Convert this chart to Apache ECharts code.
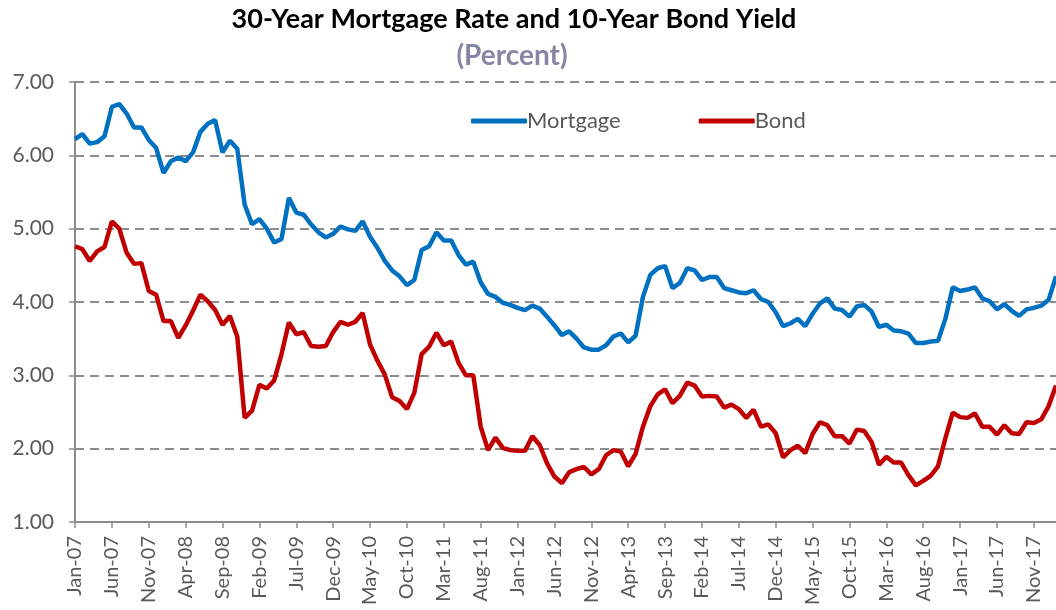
<!DOCTYPE html>
<html>
<head>
<meta charset="utf-8">
<script src="https://cdn.jsdelivr.net/npm/echarts@6/dist/echarts.min.js"></script>
<style>
html,body{margin:0;padding:0;background:#fff;}
#chart{width:1056px;height:610px;}
</style>
</head>
<body>
<div id="chart"></div>
<script>
const monthNames = ['Jan','Feb','Mar','Apr','May','Jun','Jul','Aug','Sep','Oct','Nov','Dec'];
const years = ['07','08','09','10','11','12','13','14','15','16','17','18'];
const categories = [];
for (const y of years) for (const m of monthNames) categories.push(m + '-' + y);
categories.length = 134; // Jan-07 .. Feb-18

const mortgage = [
  6.22,6.29,6.16,6.18,6.26,6.66,6.70,6.57,6.38,6.38,6.21,6.10,
  5.76,5.92,5.97,5.92,6.04,6.32,6.43,6.48,6.04,6.20,6.09,5.33,
  5.06,5.13,5.00,4.81,4.86,5.42,5.22,5.19,5.06,4.95,4.88,4.93,
  5.03,4.99,4.97,5.10,4.89,4.74,4.56,4.43,4.35,4.23,4.30,4.71,
  4.76,4.95,4.84,4.84,4.64,4.51,4.55,4.27,4.11,4.07,3.99,3.96,
  3.92,3.89,3.95,3.91,3.80,3.68,3.55,3.60,3.50,3.38,3.35,3.35,
  3.41,3.53,3.57,3.45,3.54,4.07,4.37,4.46,4.49,4.19,4.26,4.46,
  4.43,4.30,4.34,4.34,4.19,4.16,4.13,4.12,4.16,4.04,4.00,3.86,
  3.67,3.71,3.77,3.67,3.84,3.98,4.05,3.91,3.89,3.80,3.94,3.96,
  3.87,3.66,3.69,3.61,3.60,3.57,3.44,3.44,3.46,3.47,3.77,4.20,
  4.15,4.17,4.20,4.05,4.01,3.90,3.97,3.88,3.81,3.90,3.92,3.95,
  4.03,4.35
];
const bond = [
  4.76,4.72,4.56,4.69,4.75,5.10,5.00,4.67,4.52,4.53,4.15,4.10,
  3.74,3.74,3.51,3.68,3.88,4.10,4.01,3.89,3.69,3.81,3.53,2.42,
  2.52,2.87,2.82,2.93,3.29,3.72,3.56,3.59,3.40,3.39,3.40,3.59,
  3.73,3.69,3.73,3.85,3.42,3.20,3.01,2.70,2.65,2.54,2.76,3.29,
  3.39,3.58,3.41,3.46,3.17,3.00,3.00,2.30,1.98,2.15,2.01,1.98,
  1.97,1.97,2.17,2.05,1.80,1.62,1.53,1.68,1.72,1.75,1.65,1.72,
  1.91,1.98,1.96,1.76,1.93,2.30,2.58,2.74,2.81,2.62,2.72,2.90,
  2.86,2.71,2.72,2.71,2.56,2.60,2.54,2.42,2.53,2.30,2.33,2.21,
  1.88,1.98,2.04,1.94,2.20,2.36,2.32,2.17,2.17,2.07,2.26,2.24,
  2.09,1.78,1.89,1.81,1.81,1.64,1.50,1.56,1.63,1.76,2.14,2.49,
  2.43,2.42,2.48,2.30,2.30,2.19,2.32,2.21,2.20,2.36,2.35,2.40,
  2.58,2.86
];

const chart = echarts.init(document.getElementById('chart'));
const gray = '#595959';
chart.setOption({
  animation: false,
  backgroundColor: '#fff',
  title: [
    {text: '30-Year Mortgage Rate and 10-Year Bond Yield', left: 509, textAlign: 'center', top: 1,
     textStyle: {fontFamily: 'Lato', fontWeight: 'bold', fontSize: 27, color: '#000'}},
    {text: '(Percent)', left: 507, textAlign: 'center', top: 37,
     textStyle: {fontFamily: 'Lato', fontWeight: 'bold', fontSize: 28, color: '#8585A6'}}
  ],
  legend: {
    left: 466, top: 105, itemWidth: 56, itemHeight: 5, itemGap: 78, icon: 'roundRect',
    textStyle: {fontFamily: 'Lato', fontSize: 22, color: gray, padding: [0,0,0,-5]},
    data: ['Mortgage', 'Bond']
  },
  grid: {left: 75, right: 0, top: 82, bottom: 88, containLabel: false},
  xAxis: {
    type: 'category', data: categories, boundaryGap: false,
    axisLine: {lineStyle: {color: '#8c8c8c', width: 2}},
    axisTick: {show: true, interval: 4, length: 6, lineStyle: {color: '#8c8c8c', width: 1.5}},
    axisLabel: {interval: 4, rotate: 90, fontFamily: 'Lato', fontSize: 20, color: gray, margin: 14},
    splitLine: {show: false}
  },
  yAxis: {
    type: 'value', min: 1, max: 7, interval: 1,
    axisLine: {show: true, lineStyle: {color: '#8c8c8c', width: 2}},
    axisTick: {show: true, length: 6, lineStyle: {color: '#8c8c8c', width: 1.5}},
    axisLabel: {formatter: v => v.toFixed(2), fontFamily: 'Lato', fontSize: 21, color: gray, margin: 21},
    splitLine: {lineStyle: {color: '#8c8c8c', width: 2, type: [9, 6]}}
  },
  series: [
    {name: 'Mortgage', type: 'line', data: mortgage, symbol: 'none', color: '#0070C0',
     lineStyle: {width: 4.5, color: '#0070C0'}},
    {name: 'Bond', type: 'line', data: bond, symbol: 'none', color: '#C00000',
     lineStyle: {width: 4.5, color: '#C00000'}}
  ]
});
</script>
</body>
</html>
